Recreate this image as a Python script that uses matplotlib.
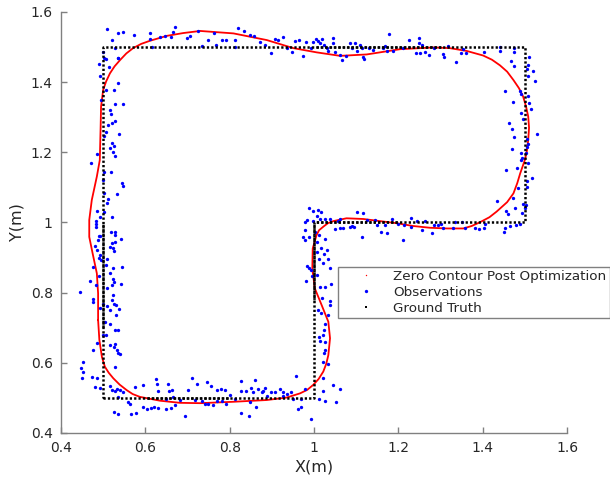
import matplotlib
matplotlib.use("Agg")
import matplotlib.pyplot as plt
from matplotlib.lines import Line2D

# ---------------- data ----------------
gt_x = [0.5, 1.0, 1.0, 1.5, 1.5, 0.5, 0.5]
gt_y = [0.5, 0.5, 1.0, 1.0, 1.5, 1.5, 0.5]

# segments where ground-truth dots are doubled (look solid)
gt_dense = [
    ([0.5, 0.5], [1.0, 0.70]),
    ([1.0, 1.0], [1.0, 0.78]),
    ([1.0, 1.2], [1.0, 1.0]),
    ([1.0, 1.3], [1.5, 1.5]),
    ([0.6, 0.8], [0.5, 0.5]),
]

contour_x = [0.488, 0.491, 0.497, 0.504, 0.513, 0.524, 0.539, 0.556, 0.570, 0.587, 0.635,
             0.682, 0.730, 0.809, 0.888, 0.935, 0.967, 0.984, 0.998, 1.011, 1.022, 1.029,
             1.034, 1.038, 1.034, 1.018, 1.002, 0.996, 0.997, 1.006, 1.012, 1.022, 1.033,
             1.046, 1.077, 1.117, 1.156, 1.196, 1.235, 1.275, 1.315, 1.354, 1.374, 1.394,
             1.416, 1.433, 1.458, 1.473, 1.482, 1.489, 1.500, 1.505, 1.508, 1.510, 1.508,
             1.503, 1.496, 1.486, 1.473, 1.458, 1.441, 1.422, 1.401, 1.362, 1.322, 1.283,
             1.204, 1.125, 1.062, 1.006, 0.951, 0.888, 0.809, 0.730, 0.690, 0.651, 0.611,
             0.590, 0.571, 0.555, 0.540, 0.527, 0.516, 0.507, 0.500, 0.495, 0.494, 0.492,
             0.485, 0.473, 0.467, 0.467, 0.475, 0.485, 0.488, 0.488]
contour_y = [0.722, 0.665, 0.617, 0.589, 0.572, 0.556, 0.538, 0.522, 0.511, 0.503, 0.492,
             0.486, 0.485, 0.489, 0.494, 0.501, 0.513, 0.523, 0.537, 0.554, 0.575, 0.597,
             0.622, 0.670, 0.717, 0.765, 0.812, 0.869, 0.926, 0.964, 0.978, 0.988, 0.998,
             1.004, 1.012, 1.010, 1.004, 0.998, 0.990, 0.985, 0.983, 0.983, 0.990, 1.001,
             1.015, 1.031, 1.058, 1.083, 1.112, 1.140, 1.178, 1.205, 1.235, 1.270, 1.302,
             1.330, 1.359, 1.383, 1.406, 1.430, 1.448, 1.464, 1.476, 1.489, 1.497, 1.499,
             1.494, 1.479, 1.475, 1.485, 1.497, 1.520, 1.539, 1.546, 1.540, 1.532, 1.518,
             1.509, 1.497, 1.482, 1.463, 1.445, 1.425, 1.402, 1.378, 1.330, 1.273, 1.178,
             1.131, 1.064, 1.007, 0.959, 0.912, 0.855, 0.798, 0.722]

obs_top_left = [
    (0.508, 1.551), (0.520, 1.520), (0.536, 1.539), (0.548, 1.544), (0.572, 1.534), (0.611, 1.539),
    (0.611, 1.522), (0.615, 1.501), (0.635, 1.530), (0.647, 1.532), (0.662, 1.530), (0.665, 1.542),
    (0.670, 1.556), (0.698, 1.525), (0.707, 1.532), (0.724, 1.547), (0.500, 1.487), (0.528, 1.496),
    (0.536, 1.470), (0.507, 1.465), (0.489, 1.451), (0.515, 1.444), (0.492, 1.418), (0.507, 1.378),
    (0.496, 1.349), (0.534, 1.397), (0.526, 1.378), (0.528, 1.338), (0.546, 1.337), (0.516, 1.321),
    (0.519, 1.308), (0.511, 1.278), (0.522, 1.283), (0.529, 1.290), (0.507, 1.257), (0.503, 1.247),
    (0.538, 1.252), (0.522, 1.228), (0.526, 1.218), (0.516, 1.213), (0.524, 1.202), (0.528, 1.190),
    (0.486, 1.194), (0.536, 1.468), (0.502, 1.468),
]
obs_left = [
    (0.470, 1.169), (0.519, 1.145), (0.544, 1.112), (0.546, 1.104), (0.532, 1.081), (0.512, 1.066),
    (0.508, 1.056), (0.503, 1.143), (0.500, 1.121), (0.503, 1.084), (0.486, 1.033), (0.503, 1.031),
    (0.492, 1.017), (0.522, 1.017), (0.482, 1.005), (0.482, 0.997), (0.483, 0.988), (0.527, 0.974),
    (0.519, 0.974), (0.489, 0.962), (0.492, 0.962), (0.487, 0.950), (0.528, 0.964), (0.542, 0.952),
    (0.528, 0.945), (0.520, 0.942), (0.516, 0.930), (0.524, 0.926), (0.526, 0.919), (0.481, 0.933),
    (0.485, 0.923), (0.492, 0.907), (0.491, 0.898), (0.495, 0.893), (0.475, 0.874), (0.507, 0.879),
    (0.508, 0.895), (0.523, 0.869), (0.545, 0.874), (0.516, 0.855), (0.489, 0.847), (0.524, 0.840),
    (0.526, 0.831), (0.522, 0.823), (0.542, 0.826), (0.469, 0.833), (0.483, 0.822), (0.508, 0.814),
    (0.445, 0.803), (0.523, 0.793), (0.520, 0.779), (0.526, 0.767), (0.475, 0.783), (0.475, 0.774),
    (0.500, 0.767), (0.508, 0.763), (0.530, 0.765), (0.538, 0.754), (0.516, 0.751), (0.530, 0.736),
    (0.492, 0.755),
]
obs_bottom_left = [
    (0.504, 0.717), (0.500, 0.679), (0.507, 0.679), (0.516, 0.712), (0.528, 0.695), (0.536, 0.693),
    (0.528, 0.655), (0.516, 0.651), (0.526, 0.644), (0.532, 0.638), (0.536, 0.627), (0.541, 0.624),
    (0.486, 0.657), (0.477, 0.636), (0.529, 0.589), (0.447, 0.584), (0.452, 0.603), (0.452, 0.573),
    (0.450, 0.556), (0.473, 0.561), (0.485, 0.556), (0.492, 0.529), (0.481, 0.532), (0.516, 0.534),
    (0.522, 0.522), (0.528, 0.520), (0.533, 0.524), (0.539, 0.522), (0.547, 0.517), (0.535, 0.502),
    (0.526, 0.460), (0.536, 0.454), (0.558, 0.489), (0.564, 0.482), (0.566, 0.454), (0.575, 0.532),
    (0.578, 0.456), (0.595, 0.537), (0.595, 0.473), (0.603, 0.467), (0.613, 0.470), (0.625, 0.555),
    (0.627, 0.541), (0.629, 0.519), (0.621, 0.475), (0.630, 0.470), (0.649, 0.467), (0.650, 0.498),
    (0.653, 0.541), (0.655, 0.521), (0.663, 0.522), (0.660, 0.470), (0.665, 0.503), (0.670, 0.479),
    (0.682, 0.493), (0.694, 0.449), (0.702, 0.522), (0.711, 0.558), (0.718, 0.493), (0.723, 0.541),
]
obs_bottom = [
    (0.747, 0.544), (0.755, 0.535), (0.734, 0.492), (0.742, 0.483), (0.749, 0.483), (0.761, 0.480),
    (0.769, 0.522), (0.779, 0.524), (0.789, 0.522), (0.769, 0.492), (0.781, 0.492), (0.791, 0.483),
    (0.801, 0.508), (0.812, 0.496), (0.826, 0.456), (0.828, 0.548), (0.828, 0.519), (0.839, 0.519),
    (0.847, 0.448), (0.849, 0.489), (0.850, 0.528), (0.856, 0.516), (0.860, 0.550), (0.862, 0.473),
    (0.868, 0.524), (0.876, 0.517), (0.880, 0.519), (0.884, 0.529), (0.888, 0.505), (0.897, 0.517),
    (0.907, 0.517), (0.919, 0.526), (0.926, 0.517), (0.927, 0.505), (0.935, 0.511), (0.945, 0.517),
    (0.951, 0.498), (0.957, 0.563), (0.961, 0.468), (0.969, 0.473), (0.970, 0.498), (0.978, 0.526),
    (0.994, 0.440),
]
obs_inner_vertical = [
    (1.013, 0.674), (1.021, 0.679), (1.026, 0.712), (1.024, 0.695), (1.026, 0.660), (1.014, 0.663),
    (1.026, 0.638), (1.024, 0.627), (1.022, 0.601), (1.034, 0.596), (1.021, 0.556), (1.021, 0.519),
    (1.013, 0.497), (1.026, 0.492), (1.046, 0.537), (1.062, 0.524), (1.051, 0.489),
    (0.987, 1.040), (0.997, 1.032), (1.009, 1.035), (1.017, 1.030), (1.006, 1.019), (0.979, 1.002),
    (0.983, 1.007), (0.997, 1.004), (1.014, 1.011), (1.026, 1.009), (1.039, 1.009), (0.979, 0.978),
    (0.975, 0.959), (0.979, 0.950), (0.987, 0.959), (1.003, 0.974), (1.011, 0.964), (1.007, 0.945),
    (1.026, 0.952), (1.016, 0.926), (1.007, 0.917), (1.023, 0.911), (1.031, 0.921), (1.013, 0.897),
    (1.021, 0.884), (1.034, 0.897), (1.039, 0.869), (0.983, 0.876), (0.987, 0.871), (0.993, 0.864),
    (0.995, 0.847), (0.981, 0.833), (1.006, 0.850), (1.014, 0.817), (1.026, 0.817), (1.041, 0.826),
    (1.020, 0.784), (1.039, 0.776), (1.039, 0.765), (1.010, 0.750), (1.016, 0.741), (1.034, 0.736),
]
obs_inner_horizontal = [
    (1.057, 1.004), (1.062, 1.009), (1.061, 0.983), (1.069, 0.983), (1.049, 0.981), (1.085, 0.988),
    (1.091, 0.991), (1.101, 1.031), (1.117, 1.026), (1.115, 0.959), (1.096, 0.988), (1.126, 1.006),
    (1.145, 1.006), (1.149, 0.992), (1.159, 0.973), (1.174, 0.969), (1.168, 0.992), (1.184, 1.011),
    (1.199, 0.997), (1.212, 0.950), (1.214, 0.994), (1.229, 1.013), (1.231, 0.986), (1.245, 1.003),
    (1.255, 0.979), (1.263, 1.005), (1.279, 0.971), (1.285, 0.994), (1.295, 0.992), (1.300, 0.997),
    (1.306, 0.985), (1.330, 0.983), (1.334, 1.002), (1.352, 1.002), (1.358, 0.983), (1.382, 0.983),
    (1.392, 0.981), (1.402, 0.983), (1.405, 0.997),
]
obs_right = [
    (1.455, 1.151), (1.482, 1.154), (1.490, 1.178), (1.507, 1.170), (1.516, 1.126), (1.504, 1.118),
    (1.505, 1.100), (1.484, 1.098), (1.471, 1.071), (1.476, 1.041), (1.503, 1.050), (1.501, 1.041),
    (1.493, 1.026), (1.433, 1.062), (1.456, 1.033), (1.460, 1.023), (1.479, 0.992), (1.465, 0.990),
    (1.453, 0.983), (1.451, 0.974), (1.488, 0.997), (1.496, 1.054),
    (1.226, 1.520), (1.248, 1.525), (1.250, 1.513), (1.255, 1.506), (1.242, 1.482), (1.251, 1.482),
    (1.264, 1.487), (1.273, 1.477), (1.285, 1.496), (1.307, 1.479), (1.309, 1.471), (1.318, 1.504),
    (1.336, 1.457), (1.349, 1.482), (1.361, 1.482), (1.353, 1.494), (1.402, 1.487), (1.441, 1.499),
    (1.441, 1.490), (1.474, 1.496), (1.475, 1.485), (1.467, 1.461), (1.475, 1.446), (1.511, 1.471),
    (1.507, 1.449), (1.505, 1.437), (1.519, 1.433), (1.507, 1.418), (1.523, 1.403), (1.454, 1.375),
    (1.488, 1.376), (1.492, 1.366), (1.507, 1.361), (1.511, 1.342), (1.515, 1.323), (1.471, 1.344),
    (1.492, 1.311), (1.495, 1.295), (1.463, 1.283), (1.469, 1.266), (1.475, 1.243), (1.528, 1.251),
    (1.505, 1.237), (1.507, 1.224), (1.505, 1.216), (1.470, 1.209), (1.491, 1.199), (1.503, 1.197),
    (1.493, 1.183),
]
obs_top = [
    (0.734, 1.504), (0.749, 1.520), (0.763, 1.539), (0.767, 1.507), (0.781, 1.520), (0.791, 1.520),
    (0.813, 1.520), (0.813, 1.499), (0.820, 1.555), (0.834, 1.546), (0.848, 1.535), (0.858, 1.533),
    (0.872, 1.514), (0.884, 1.506), (0.897, 1.483), (0.907, 1.523), (0.915, 1.520), (0.926, 1.530),
    (0.937, 1.497), (0.947, 1.487), (0.955, 1.517), (0.964, 1.520), (0.975, 1.476), (0.981, 1.515),
    (0.992, 1.497), (0.998, 1.515), (1.005, 1.523), (1.010, 1.517), (1.014, 1.511), (1.020, 1.523),
    (1.024, 1.506), (1.030, 1.498), (1.034, 1.489), (1.046, 1.527), (1.046, 1.511), (1.050, 1.487),
    (1.062, 1.477), (1.066, 1.463), (1.077, 1.475), (1.085, 1.511), (1.089, 1.497), (1.097, 1.511),
    (1.103, 1.489), (1.109, 1.506), (1.113, 1.497), (1.117, 1.473), (1.119, 1.466), (1.131, 1.498),
    (1.141, 1.492), (1.164, 1.498), (1.168, 1.504), (1.174, 1.488), (1.177, 1.536), (1.188, 1.490),
    (1.210, 1.497),
]

x_ticks = [0.4, 0.6, 0.8, 1.0, 1.2, 1.4, 1.6]
x_tick_labels = ["0.4", "0.6", "0.8", "1", "1.2", "1.4", "1.6"]
y_ticks = [0.4, 0.6, 0.8, 1.0, 1.2, 1.4, 1.6]
y_tick_labels = ["0.4", "0.6", "0.8", "1", "1.2", "1.4", "1.6"]

legend_labels = ["Zero Contour Post Optimization", "Observations", "Ground Truth"]

# ---------------- plot ----------------
plt.rcParams['font.family'] = ['DejaVu Sans']
fig = plt.figure(figsize=(6.1, 4.8), dpi=100)
ax = fig.add_axes([61 / 610, 1 - 433 / 480, (567 - 61) / 610, (433 - 12) / 480])

ax.plot(contour_x, contour_y, color='#ff0000', lw=1.3, zorder=2,
        solid_joinstyle='round')

all_obs = (obs_top_left + obs_left + obs_bottom_left + obs_bottom + obs_inner_vertical
           + obs_inner_horizontal + obs_right + obs_top)
ox = [p[0] for p in all_obs]
oy = [p[1] for p in all_obs]
ax.plot(ox, oy, linestyle='none', marker='o', markersize=2.4, color='#0000ff',
        markeredgewidth=0, zorder=3)

gt_style = dict(color='black', lw=1.8, dash_capstyle='butt', zorder=4)
ax.plot(gt_x, gt_y, linestyle=(0, (0.9, 0.85)), **gt_style)
for sx, sy in gt_dense:
    ax.plot(sx, sy, linestyle=(0.85, (0.9, 0.85)), **gt_style)

ax.set_xlim(0.4, 1.6)
ax.set_ylim(0.4, 1.6)
ax.set_xticks(x_ticks)
ax.set_xticklabels(x_tick_labels)
ax.set_yticks(y_ticks)
ax.set_yticklabels(y_tick_labels)

spine_col = '#808080'
for s in ['top', 'right']:
    ax.spines[s].set_visible(False)
for s in ['left', 'bottom']:
    ax.spines[s].set_color(spine_col)
    ax.spines[s].set_linewidth(1.0)
ax.tick_params(direction='in', length=4, width=1.0, color=spine_col,
               labelcolor='#262626', labelsize=10, pad=6)

ax.set_xlabel("X(m)", fontsize=11.5, color='#262626', labelpad=3)
ax.set_ylabel("Y(m)", fontsize=11.5, color='#262626', labelpad=4)

handles = [
    Line2D([], [], color='#ff0000', marker='o', markersize=1.0, linestyle='none', markeredgewidth=0),
    Line2D([], [], color='#0000ff', marker='o', markersize=2.4, linestyle='none', markeredgewidth=0),
    Line2D([], [], color='black', marker='s', markersize=2.0, linestyle='none', markeredgewidth=0),
]
leg = fig.legend(handles, legend_labels, loc='upper left',
                 bbox_to_anchor=(338 / 610, 1 - 266.5 / 480), bbox_transform=fig.transFigure,
                 prop={'size': 9.7}, frameon=True, fancybox=False, borderpad=0.27,
                 handlelength=3.6, handletextpad=0.2, labelspacing=0.2,
                 borderaxespad=0, framealpha=1)
leg.get_frame().set_edgecolor('#808080')
leg.get_frame().set_linewidth(1.0)
for t in leg.get_texts():
    t.set_color('#262626')

fig.savefig("out.png", dpi=100)
